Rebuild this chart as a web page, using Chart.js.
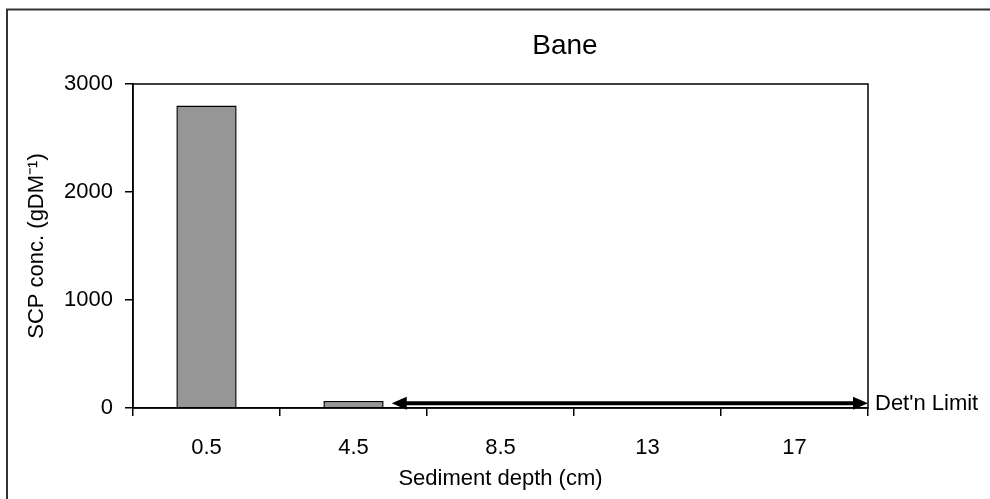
<!DOCTYPE html>
<html>
<head>
<meta charset="utf-8">
<script src="https://cdn.jsdelivr.net/npm/chart.js@4"></script>
<style>
  html, body { margin: 0; padding: 0; background: #fff; }
  #wrap { width: 990px; height: 499px; }
</style>
</head>
<body>
<div id="wrap"><canvas id="c" width="990" height="499"></canvas></div>
<script>
const categories = ['0.5', '4.5', '8.5', '13', '17'];
const scpValues = [2800, 65, null, null, null];
const yTicks = [0, 1000, 2000, 3000];
const chartTitle = 'Bane';
const detLimitValue = 45;          // y value of the detection-limit arrow
const detLimitRange = [1.26, 4.5];  // category-index span of the arrow
const detLimitLabel = "Det'n Limit";

const FONT = "'Liberation Sans', Arial, Helvetica, sans-serif";

const decor = {
  id: 'decor',
  beforeDraw(chart) {
    const ctx = chart.ctx;
    ctx.save();
    ctx.fillStyle = '#fff';
    ctx.fillRect(0, 0, chart.width, chart.height);
    ctx.strokeStyle = '#333';
    ctx.lineWidth = 2;
    ctx.strokeRect(7, 9.5, 1100, 700);
    // title
    ctx.fillStyle = '#000';
    ctx.font = '28px ' + FONT;
    ctx.textAlign = 'center';
    ctx.textBaseline = 'middle';
    ctx.fillText(chartTitle, 565, 46);
    ctx.restore();
  },
  afterDatasetsDraw(chart) {
    const ctx = chart.ctx;
    const a = chart.chartArea;
    const x = chart.scales.x, y = chart.scales.y;
    ctx.save();
    // plot box
    ctx.strokeStyle = '#000';
    ctx.lineWidth = 1.5;
    ctx.strokeRect(a.left, a.top, a.right - a.left, a.bottom - a.top);
    // arrow
    const x1 = x.getPixelForValue(detLimitRange[0]);
    const x2 = x.getPixelForValue(detLimitRange[1]);
    const yy = y.getPixelForValue(detLimitValue);
    const hl = 15, hw = 6.5;
    ctx.fillStyle = '#000';
    ctx.strokeStyle = '#000';
    ctx.lineWidth = 4;
    ctx.beginPath();
    ctx.moveTo(x1 + hl - 2, yy);
    ctx.lineTo(x2 - hl + 2, yy);
    ctx.stroke();
    ctx.beginPath();
    ctx.moveTo(x1, yy);
    ctx.lineTo(x1 + hl, yy - hw);
    ctx.lineTo(x1 + hl, yy + hw);
    ctx.closePath();
    ctx.fill();
    ctx.beginPath();
    ctx.moveTo(x2, yy);
    ctx.lineTo(x2 - hl, yy - hw);
    ctx.lineTo(x2 - hl, yy + hw);
    ctx.closePath();
    ctx.fill();
    // label
    ctx.font = '22px ' + FONT;
    ctx.textAlign = 'left';
    ctx.textBaseline = 'middle';
    ctx.fillText(detLimitLabel, a.right + 7, yy + 1);
    ctx.restore();
  }
};

new Chart(document.getElementById('c'), {
  type: 'bar',
  data: {
    labels: categories,
    datasets: [{
      data: scpValues,
      backgroundColor: '#969696',
      borderColor: '#000',
      borderWidth: 1.5,
      borderSkipped: 'bottom',
      categoryPercentage: 1,
      barPercentage: 0.41
    }]
  },
  options: {
    responsive: false,
    animation: false,
    devicePixelRatio: 1,
    layout: { padding: { left: 0, right: 122, top: 84, bottom: 0 } },
    plugins: {
      legend: { display: false },
      tooltip: { enabled: false },
      title: { display: false }
    },
    scales: {
      x: {
        grid: { display: true, drawOnChartArea: false, drawTicks: true, tickLength: 8, color: '#000', offset: true, lineWidth: 1.5 },
        border: { display: true, color: '#000', width: 1.5 },
        ticks: { color: '#000', font: { family: FONT, size: 22 }, padding: 19, maxRotation: 0 },
        title: { display: true, text: 'Sediment depth (cm)', color: '#000', font: { family: FONT, size: 22 }, padding: { top: 4, bottom: 7 } },
        afterFit(s) { s.height = 91; }
      },
      y: {
        min: 0, max: 3000,
        afterBuildTicks(s) { s.ticks = yTicks.map(v => ({ value: v })); },
        grid: { display: true, drawOnChartArea: false, drawTicks: true, tickLength: 8, color: '#000', lineWidth: 1.5 },
        border: { display: true, color: '#000', width: 1.5 },
        ticks: { color: '#000', font: { family: FONT, size: 22 }, padding: 12, callback: (v) => String(v) },
        title: { display: true, text: 'SCP conc. (gDM\u207B\u00B9)', color: '#000', font: { family: FONT, size: 22 }, padding: { top: 24, bottom: 0 } },
        afterFit(s) { s.width = 133; }
      }
    }
  },
  plugins: [decor]
});
</script>
</body>
</html>
